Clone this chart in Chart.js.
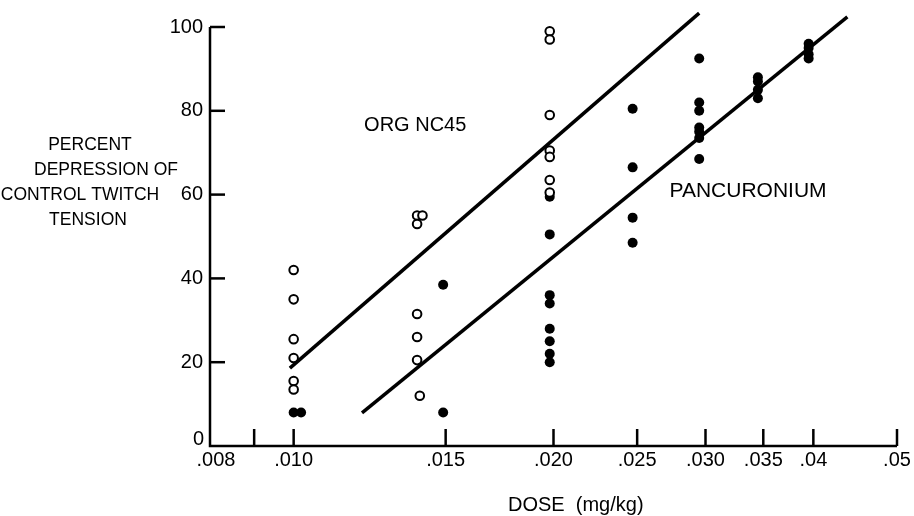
<!DOCTYPE html>
<html>
<head>
<meta charset="utf-8">
<script src="https://cdn.jsdelivr.net/npm/chart.js@4.4.1/dist/chart.umd.min.js"></script>
<style>
  html, body { margin: 0; padding: 0; background: #fff; }
  #wrap { width: 914px; height: 516px; }
</style>
</head>
<body>
<div id="wrap"><canvas id="c" width="914" height="516"></canvas></div>
<script>
// ORG NC45 (open circles)
const orgDose = [0.0100, 0.0100, 0.0100, 0.0100, 0.0100, 0.0100,
  0.0139, 0.0141, 0.0139, 0.0139, 0.0139, 0.0139, 0.0140,
  0.0198, 0.0198, 0.0198, 0.0198, 0.0198, 0.0198, 0.0198];
const orgPct = [42, 35, 25.5, 21, 15.5, 13.5,
  55, 55, 53, 31.5, 26, 20.5, 12,
  99, 97, 79, 70.5, 69, 63.5, 60.5];

// Pancuronium (filled circles)
const pancDose = [0.0100, 0.0102,
  0.0149, 0.0149,
  0.0198, 0.0198, 0.0198, 0.0198, 0.0198, 0.0198, 0.0198, 0.0198,
  0.0247, 0.0247, 0.0247, 0.0247,
  0.0295, 0.0295, 0.0295, 0.0295, 0.0295, 0.0295, 0.0295,
  0.0345, 0.0345, 0.0345, 0.0345,
  0.0395, 0.0395, 0.0395, 0.0395];
const pancPct = [8, 8,
  38.5, 8,
  59.5, 50.5, 36, 34, 28, 25, 22, 20,
  80.5, 66.5, 54.5, 48.5,
  92.5, 82, 80, 76, 75, 73.5, 68.5,
  88, 87, 85, 83,
  96, 95, 93.5, 92.5];

// fitted lines (end points)
const orgLineDose = [0.0099, 0.0295];
const orgLinePct = [18.6, 103.3];
const pancLineDose = [0.0120, 0.0438];
const pancLinePct = [7.9, 102.4];

// axes
const xTickVals = [0.008, 0.009, 0.010, 0.015, 0.020, 0.025, 0.030, 0.035, 0.04, 0.05];
const xTickLabels = ['.008', '', '.010', '.015', '.020', '.025', '.030', '.035', '.04', '.05'];
const yTickVals = [0, 20, 40, 60, 80, 100];
const yTitle = ['PERCENT', 'DEPRESSION OF', 'CONTROL TWITCH', 'TENSION'];
const xTitle = 'DOSE  (mg/kg)';

const toPoints = (xs, ys) => xs.map((x, i) => ({ x, y: ys[i] }));
const FONT = '"Liberation Sans", Arial, sans-serif';

const axesPlugin = {
  id: 'axesPlugin',
  afterDraw(chart) {
    const { ctx, scales: { x, y } } = chart;
    const x0 = x.getPixelForValue(0.008);
    const y0 = y.getPixelForValue(0);
    ctx.save();
    ctx.strokeStyle = '#000';
    ctx.fillStyle = '#000';
    ctx.lineWidth = 2.5;
    ctx.lineCap = 'butt';

    // axis lines
    ctx.beginPath();
    ctx.moveTo(x0, y.getPixelForValue(100));
    ctx.lineTo(x0, y0);
    ctx.lineTo(x.getPixelForValue(0.05), y0);
    ctx.stroke();

    // y ticks (inward) + labels
    ctx.font = '20px ' + FONT;
    ctx.textAlign = 'right';
    ctx.textBaseline = 'middle';
    yTickVals.forEach(v => {
      const py = y.getPixelForValue(v);
      if (v > 0) {
        ctx.beginPath();
        ctx.moveTo(x0, py);
        ctx.lineTo(x0 + 15, py);
        ctx.stroke();
        ctx.fillText(String(v), x0 - 7, py);
      } else {
        ctx.fillText('0', x0 - 6, py - 7);
      }
    });

    // x ticks (upward) + labels
    ctx.font = '20px ' + FONT;
    ctx.textAlign = 'center';
    ctx.textBaseline = 'top';
    xTickVals.forEach((v, i) => {
      const px = x.getPixelForValue(v);
      if (i > 0) {
        ctx.beginPath();
        ctx.moveTo(px, y0);
        ctx.lineTo(px, y0 - 17);
        ctx.stroke();
      }
      if (xTickLabels[i]) ctx.fillText(xTickLabels[i], px + (i === 0 ? 6 : 0), y0 + 4);
    });

    // axis titles
    ctx.font = '20px ' + FONT;
    ctx.textAlign = 'left';
    ctx.textBaseline = 'middle';
    ctx.fillText(xTitle, 508, 505);

    ctx.font = '17.5px ' + FONT;
    ctx.textAlign = 'center';
    const titleX = [90, 106, 80, 88];
    yTitle.forEach((t, i) => ctx.fillText(t, titleX[i], 145 + i * 25));

    // series labels
    ctx.font = '20px ' + FONT;
    ctx.fillText('ORG NC45', x.getPixelForValue(0.01383), y.getPixelForValue(76.4));
    ctx.font = '21px ' + FONT;
    ctx.fillText('PANCURONIUM', x.getPixelForValue(0.0336), y.getPixelForValue(60.9));
    ctx.restore();
  }
};

new Chart(document.getElementById('c'), {
  type: 'scatter',
  data: {
    datasets: [
      {
        label: 'ORG NC45 fit',
        data: toPoints(orgLineDose, orgLinePct),
        showLine: true,
        borderColor: '#000',
        borderWidth: 3.5,
        pointRadius: 0,
        clip: false
      },
      {
        label: 'Pancuronium fit',
        data: toPoints(pancLineDose, pancLinePct),
        showLine: true,
        borderColor: '#000',
        borderWidth: 3.5,
        pointRadius: 0,
        clip: false
      },
      {
        label: 'ORG NC45',
        data: toPoints(orgDose, orgPct),
        pointStyle: 'circle',
        pointRadius: 4.3,
        pointBorderWidth: 2,
        pointBorderColor: '#000',
        pointBackgroundColor: '#fff',
        clip: false
      },
      {
        label: 'Pancuronium',
        data: toPoints(pancDose, pancPct),
        pointStyle: 'circle',
        pointRadius: 5,
        pointBorderWidth: 0,
        pointBackgroundColor: '#000',
        clip: false
      }
    ]
  },
  options: {
    responsive: false,
    animation: false,
    devicePixelRatio: 1,
    layout: { padding: { left: 210, right: 17, top: 27, bottom: 70 } },
    plugins: {
      legend: { display: false },
      tooltip: { enabled: false }
    },
    scales: {
      x: { type: 'logarithmic', min: 0.008, max: 0.05, display: false },
      y: { type: 'linear', min: 0, max: 100, display: false }
    }
  },
  plugins: [axesPlugin]
});
</script>
</body>
</html>
